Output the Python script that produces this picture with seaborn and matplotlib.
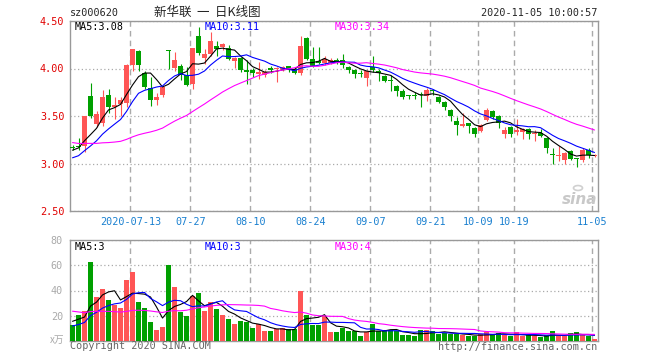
import matplotlib
matplotlib.use("Agg")
import matplotlib.pyplot as plt
import seaborn as sns
import numpy as np
import pandas as pd

# daily OHLC, 2020-06-29 .. 2020-11-05 (88 sessions)
opens = [3.17, 3.18, 3.18, 3.71, 3.42, 3.43, 3.72, 3.59, 3.63, 3.64,
         4.04, 4.18, 3.95, 3.80, 3.67, 3.72, 4.19, 4.01, 4.03, 3.93,
         3.84, 4.34, 4.11, 4.15, 4.24, 4.23, 4.22, 4.08, 4.11, 3.98,
         3.98, 3.94, 3.93, 4.00, 3.99, 3.99, 4.03, 3.99, 3.95, 4.32,
         4.10, 4.08, 4.06, 4.06, 4.09, 4.09, 4.02, 3.98, 3.95, 3.90,
         4.02, 3.97, 3.92, 3.88, 3.82, 3.76, 3.72, 3.72, 3.73, 3.71,
         3.77, 3.70, 3.65, 3.56, 3.45, 3.40, 3.43, 3.37, 3.34, 3.46,
         3.55, 3.50, 3.31, 3.38, 3.33, 3.33, 3.36, 3.31, 3.32, 3.27,
         3.10, 3.08, 3.04, 3.13, 3.06, 3.04, 3.14, 3.08]
highs = [3.20, 3.27, 3.50, 3.85, 3.55, 3.77, 3.78, 3.70, 3.70, 4.05,
         4.20, 4.19, 3.97, 3.91, 3.74, 3.82, 4.19, 4.17, 4.05, 4.02,
         4.22, 4.44, 4.21, 4.38, 4.29, 4.27, 4.25, 4.12, 4.12, 4.09,
         4.01, 4.07, 3.98, 4.03, 4.02, 4.03, 4.03, 4.01, 4.34, 4.33,
         4.23, 4.23, 4.13, 4.11, 4.11, 4.15, 4.03, 3.99, 3.98, 3.98,
         4.13, 4.00, 3.93, 3.93, 3.83, 3.78, 3.72, 3.75, 3.75, 3.79,
         3.78, 3.71, 3.66, 3.57, 3.49, 3.53, 3.43, 3.38, 3.42, 3.58,
         3.56, 3.51, 3.38, 3.39, 3.47, 3.37, 3.37, 3.35, 3.36, 3.28,
         3.16, 3.18, 3.12, 3.14, 3.06, 3.16, 3.16, 3.10]
lows = [3.14, 3.14, 3.12, 3.48, 3.38, 3.40, 3.53, 3.47, 3.50, 3.60,
        3.97, 3.97, 3.78, 3.61, 3.62, 3.70, 3.99, 3.97, 3.88, 3.82,
        3.78, 4.14, 4.05, 4.13, 4.13, 4.19, 4.09, 4.01, 3.96, 3.84,
        3.91, 3.89, 3.91, 3.95, 3.86, 3.97, 3.96, 3.94, 3.93, 4.09,
        4.02, 4.05, 4.04, 4.05, 4.05, 4.01, 3.95, 3.90, 3.91, 3.82,
        3.96, 3.87, 3.86, 3.76, 3.71, 3.68, 3.68, 3.68, 3.60, 3.66,
        3.72, 3.64, 3.56, 3.45, 3.30, 3.38, 3.32, 3.28, 3.33, 3.45,
        3.47, 3.37, 3.27, 3.28, 3.30, 3.26, 3.26, 3.24, 3.28, 3.11,
        2.99, 3.03, 3.00, 3.04, 2.96, 3.02, 3.06, 3.07]
closes = [3.16, 3.17, 3.50, 3.50, 3.52, 3.70, 3.60, 3.62, 3.67, 4.04,
          4.20, 4.04, 3.81, 3.67, 3.70, 3.81, 4.18, 4.09, 3.93, 3.83,
          4.22, 4.16, 4.15, 4.29, 4.21, 4.26, 4.10, 4.11, 3.98, 3.96,
          3.95, 3.96, 3.96, 3.98, 4.01, 4.02, 3.99, 3.95, 4.24, 4.10,
          4.03, 4.06, 4.10, 4.09, 4.08, 4.04, 3.98, 3.94, 3.94, 3.97,
          3.98, 3.95, 3.87, 3.87, 3.76, 3.70, 3.71, 3.71, 3.72, 3.77,
          3.76, 3.65, 3.60, 3.50, 3.41, 3.42, 3.40, 3.31, 3.40, 3.56,
          3.49, 3.43, 3.35, 3.31, 3.35, 3.36, 3.31, 3.32, 3.29, 3.16,
          3.09, 3.09, 3.11, 3.05, 3.05, 3.14, 3.09, 3.09]
volumes = [12.4, 20.4, 23.6, 62.5, 35.0, 41.0, 32.3, 28.3, 26.0, 48.2,
           54.6, 30.7, 26.0, 14.8, 8.5, 10.9, 60.0, 42.6, 22.8, 19.9,
           35.5, 37.9, 23.6, 30.7, 25.2, 20.4, 17.2, 13.2, 15.6, 14.8,
           10.0, 13.2, 7.7, 7.7, 9.3, 10.0, 9.3, 9.3, 39.5, 20.4,
           12.4, 12.4, 19.6, 7.5, 6.9, 10.0, 7.7, 7.7, 3.7, 6.9,
           13.2, 7.7, 8.5, 8.5, 7.7, 4.5, 4.5, 3.7, 8.5, 8.5,
           7.7, 5.3, 6.4, 5.8, 5.8, 4.5, 3.7, 3.7, 5.3, 6.9,
           5.3, 6.4, 4.5, 3.7, 6.9, 3.7, 4.5, 3.7, 2.9, 4.5,
           7.7, 3.7, 3.7, 6.1, 6.9, 5.3, 3.7, 1.3]

# 29 sessions before the first visible candle, only used to seed the moving averages
pre_closes = [3.45, 3.48, 3.50, 3.52, 3.52, 3.52, 3.46, 3.44, 3.42, 3.41,
              3.38, 3.33, 3.25, 3.18, 3.12, 3.06, 3.02, 2.99, 2.98, 2.98,
              2.95, 2.97, 3.00, 2.98, 3.00, 3.05, 3.12, 3.18, 3.19]
pre_volumes = [38, 42, 35, 30, 40, 33, 36, 36, 32, 30,
               28, 31, 27, 29, 26, 30, 28, 28, 6, 4,
               9, 7, 8, 9, 8, 12, 15, 19, 19.6]

tick_idx = [10, 20, 30, 40, 50, 60, 68, 74, 87]
tick_lbl = ["2020-07-13", "07-27", "08-10", "08-24", "09-07",
            "09-21", "10-09", "10-19", "11-05"]

price_lbl = ["MA5:3.08", "MA10:3.11", "MA30:3.34"]
vol_lbl = ["MA5:3", "MA10:3", "MA30:4"]

RED = "#ff5555"
GREEN = "#00a000"
GRID = "#aaaaaa"
FRAME = "#999999"
ma_colors = ["black", "#0000ff", "#ff00ff"]

sns.set_style("white")
plt.rcParams["font.family"] = ["DejaVu Sans Mono", "Noto Sans CJK SC"]

n = len(closes)
x = np.arange(n)
cl_all = pd.Series(pre_closes + closes)
vo_all = pd.Series(pre_volumes + volumes)
price_ma = [cl_all.rolling(w).mean().values[-n:] for w in (5, 10, 30)]
vol_ma = [vo_all.rolling(w).mean().values[-n:] for w in (5, 10, 30)]

o = np.array(opens); h = np.array(highs); l = np.array(lows); c = np.array(closes)
up = c >= o
cols = np.where(up, RED, GREEN)

W, H = 660, 360
fig = plt.figure(figsize=(6.6, 3.6), dpi=100)
ax1 = fig.add_axes([70 / W, 1 - 211 / H, 528 / W, 190 / H])
ax2 = fig.add_axes([70 / W, 1 - 341 / H, 528 / W, 101 / H])

# candles
ax1.vlines(x, l, h, colors=cols, lw=0.8, zorder=3)
body = np.maximum(np.abs(c - o), 0.011)
ax1.bar(x, body, bottom=np.minimum(o, c), width=0.72, color=cols, lw=0, zorder=4)
for ma, col in zip(price_ma, ma_colors):
    sns.lineplot(x=x, y=ma, color=col, lw=0.8, ax=ax1, zorder=5, legend=False)

# volume
ax2.bar(x, volumes, width=0.85, color=cols, lw=0, zorder=3)
for ma, col in zip(vol_ma, ma_colors):
    sns.lineplot(x=x, y=ma, color=col, lw=0.8, ax=ax2, zorder=5, legend=False)

grid_x = np.array(tick_idx) - 0.35
for ax in (ax1, ax2):
    ax.set_xlim(-0.42, n - 0.42)
    ax.set_xticks(grid_x)
    ax.set_axisbelow(True)
    ax.grid(axis="x", color=GRID, lw=1, ls=(0, (4, 3)))
    ax.grid(axis="y", color=GRID, lw=0.9, ls=(0, (1, 2)))
    for s in ax.spines.values():
        s.set_color(FRAME)
        s.set_linewidth(1)
    ax.set_xlabel("")
    ax.set_ylabel("")

ax1.set_ylim(2.5, 4.5)
ax1.set_yticks([2.5, 3.0, 3.5, 4.0, 4.5])
ax1.set_yticklabels(["%.2f" % v for v in [2.5, 3.0, 3.5, 4.0, 4.5]])
ax1.set_xticklabels(tick_lbl)
ax1.tick_params(axis="y", length=0, pad=4, labelsize=7.3, labelcolor="#e00000")
ax1.tick_params(axis="x", length=0, pad=4, labelsize=7.3, labelcolor="#1a80d0")

ax2.set_ylim(0, 80)
ax2.set_yticks([20, 40, 60, 80])
ax2.set_xticklabels([])
ax2.tick_params(axis="y", length=0, pad=5, labelsize=7.3, labelcolor="#aaaaaa")
ax2.tick_params(axis="x", length=0)


def ftext(px, py, s, **kw):
    kw.setdefault("fontsize", 7.3)
    kw.setdefault("va", "center")
    fig.text(px / W, 1 - py / H, s, **kw)


ftext(70, 13.5, "sz000620")
ftext(207, 12.5, "新华联  一  日K线图", ha="center", fontsize=9,
      family=["Noto Sans CJK SC", "DejaVu Sans"])
ftext(597, 13, "2020-11-05 10:00:57", ha="right")
for px, s, col in zip([75, 205, 335], price_lbl, ma_colors):
    ftext(px, 26.5, s, color=col)
for px, s, col in zip([75, 205, 335], vol_lbl, ma_colors):
    ftext(px, 246.5, s, color=col)
ftext(64, 340, "x万", ha="right", color="#aaaaaa", fontsize=7,
      family=["Noto Sans CJK SC", "DejaVu Sans"])
ftext(70, 346, "Copyright 2020 SINA.COM", color="#666666")
ftext(597, 346.5, "http://finance.sina.com.cn", ha="right", color="#666666")
# watermark
ftext(580, 199, "sina", ha="center", color="#c8c8c8", fontsize=11,
      fontstyle="italic", fontweight="bold", family="DejaVu Sans")
fig.patches.append(plt.Circle((578 / W, 1 - 188 / H), 4.5 / W, transform=fig.transFigure,
                              fill=False, ec="#d0d0d0", lw=1.2))

fig.savefig("out.png", dpi=100)
